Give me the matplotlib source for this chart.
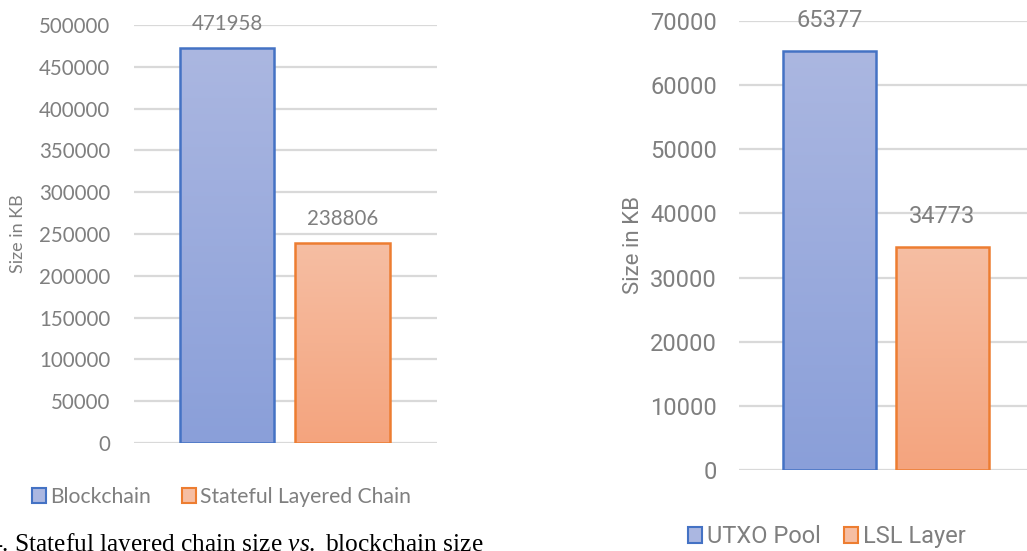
"""Two Excel-style bar charts: chain size and layer size, in KB."""
import matplotlib as mpl
import matplotlib.pyplot as plt
import numpy as np
from matplotlib.colors import LinearSegmentedColormap
from matplotlib.patches import Patch

# ----------------- Data -------------------------------------------------
left_labels = ["Blockchain", "Stateful Layered Chain"]
left_values = [471958, 238806]
left_ticks = [0, 50000, 100000, 150000, 200000, 250000, 300000, 350000, 400000, 450000, 500000]

right_labels = ["UTXO Pool", "LSL Layer"]
right_values = [65377, 34773]
right_ticks = [0, 10000, 20000, 30000, 40000, 50000, 60000, 70000]

caption = r"4. Stateful layered chain size $\it{vs.}$ blockchain size"

# ----------------- Style ------------------------------------------------
mpl.rcParams.update({
    "mathtext.fontset": "custom",
    "mathtext.rm": "Liberation Serif",
    "mathtext.it": "Liberation Serif:italic",
})

TXT = "#7f7f7f"
GRID = "#d9d9d9"
EDGE = ["#4472c4", "#ed7d31"]
GRAD = [("#8a9fd9", "#abb7e1"), ("#f4a47e", "#f6bea3")]   # (bottom, top)

LEFT_FONT = ["Lato", "DejaVu Sans"]
RIGHT_FONT = ["Roboto", "DejaVu Sans"]


def gradient_bars(ax, values, width):
    bars = ax.bar(range(len(values)), values, width=width, color="none",
                  edgecolor=EDGE, linewidth=1.8, zorder=3)
    grad = np.linspace(0, 1, 256).reshape(-1, 1)
    for bar, (lo, hi) in zip(bars, GRAD):
        cmap = LinearSegmentedColormap.from_list("g", [lo, hi])
        x0, y0 = bar.get_x(), bar.get_y()
        im = ax.imshow(grad, cmap=cmap, origin="lower", aspect="auto",
                       extent=[x0, x0 + bar.get_width(), y0, y0 + bar.get_height()],
                       zorder=2)
        im.set_clip_path(bar)
    return bars


def style_axis(ax, ticks, font, size, ylab_size, pad):
    ax.set_ylim(ticks[0], ticks[-1])
    ax.set_yticks(ticks)
    ax.set_yticklabels([str(t) for t in ticks], family=font, fontsize=size, color=TXT)
    ax.set_xticks([])
    ax.tick_params(axis="y", length=0, pad=pad)
    for s in ax.spines.values():
        s.set_visible(False)
    ax.grid(axis="y", color=GRID, linewidth=1.6, zorder=0)
    ax.set_axisbelow(True)
    ax.set_ylabel("Size in KB", family=font, fontsize=ylab_size, color=TXT)


fig = plt.figure(figsize=(10.27, 5.51), dpi=100)

# ----------------- Left chart -------------------------------------------
ax1 = fig.add_axes([0.1305, 0.196, 0.295, 0.7586])
ax1.set_xlim(-0.805, 1.818)
bars = gradient_bars(ax1, left_values, 0.814)
style_axis(ax1, left_ticks, LEFT_FONT, 14.8, 13, 17)
ax1.yaxis.set_label_coords(-0.356, 0.5)
for b, v in zip(bars, left_values):
    ax1.annotate(str(v), (b.get_x() + b.get_width() / 2, v), xytext=(0, 17.5),
                 textcoords="offset points", ha="center", va="center",
                 family=LEFT_FONT, fontsize=14.8, color=TXT, zorder=4)
h1 = [Patch(facecolor=GRAD[i][1], edgecolor=EDGE[i], linewidth=1.5) for i in range(2)]
fig.legend(h1, left_labels, loc="center", bbox_to_anchor=(0.2157, 0.098),
           ncol=2, frameon=False, prop={"family": LEFT_FONT, "size": 15.2},
           labelcolor=TXT, handlelength=0.65, handleheight=0.7,
           handletextpad=0.2, columnspacing=1.5)

# ----------------- Right chart ------------------------------------------
ax2 = fig.add_axes([0.7196, 0.147, 0.2804, 0.815])
ax2.set_xlim(-0.801, 1.748)
bars = gradient_bars(ax2, right_values, 0.823)
style_axis(ax2, right_ticks, RIGHT_FONT, 17, 16, 16)
ax2.yaxis.set_label_coords(-0.33, 0.5)
for b, v in zip(bars, right_values):
    ax2.annotate(str(v), (b.get_x() + b.get_width() / 2, v), xytext=(0, 22),
                 textcoords="offset points", ha="center", va="center",
                 family=RIGHT_FONT, fontsize=17, color=TXT, zorder=4)
h2 = [Patch(facecolor=GRAD[i][1], edgecolor=EDGE[i], linewidth=1.5) for i in range(2)]
fig.legend(h2, right_labels, loc="center", bbox_to_anchor=(0.805, 0.026),
           ncol=2, frameon=False, prop={"family": RIGHT_FONT, "size": 17},
           labelcolor=TXT, handlelength=0.6, handleheight=0.65,
           handletextpad=0.2, columnspacing=1.0)

# ----------------- Caption ----------------------------------------------
fig.text(-0.011, 0.0, caption, family="Liberation Serif", fontsize=18.3,
         color="black", ha="left", va="baseline")

fig.savefig("out.png", dpi=100)
